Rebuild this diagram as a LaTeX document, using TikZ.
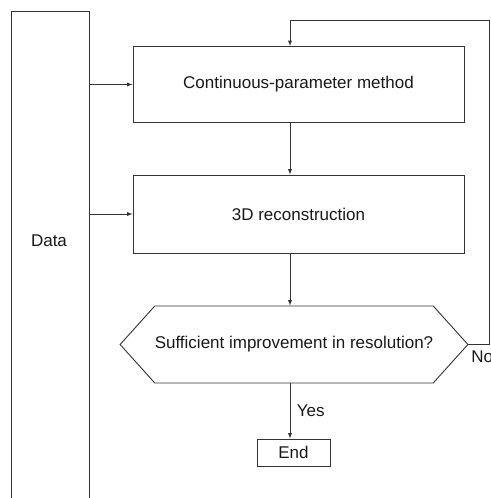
\documentclass[tikz,border=0pt]{standalone}
\usepackage{fontspec}
\setmainfont{Liberation Sans}
\usetikzlibrary{arrows,shapes.symbols}

\begin{document}
\begin{tikzpicture}[x = 1pt, y = -1pt, >=latex, line width = 0.9pt, color = black!80,
  every node/.style = {font = \fontsize{17}{20}\selectfont, text = black!90},
  stage/.style = {draw, minimum width = 331pt, minimum height = 76pt}]

\useasboundingbox (0, 0) rectangle (490, 498);
\clip (0, 0) rectangle (490, 498);

% data column, runs off the bottom
\node[draw, minimum width = 78pt, minimum height = 530pt] (data) at (50, 276) {};
\node (datatext) at (49, 241) {Data};

\node[stage] (method) at (298.5, 84.5) {Continuous-parameter method};
\node[stage, minimum height = 78pt] (recon) at (298.5, 214) {3D reconstruction};
\node[draw, shape = signal, signal to = west and east, signal pointer angle = 96,
  minimum width = 346pt, minimum height = 77pt, inner xsep = 0pt] (check) at (294, 344.5)
  {Sufficient improvement in resolution?};
\node[draw, minimum width = 73pt, minimum height = 27pt] (end) at (293.5, 452.5) {End};

\coordinate (col) at (290, 0);
\coordinate (loop) at (489, 20);

\draw[->] (data.east |- method.west) -- (method.west);
\draw[->] (data.east |- recon.west) -- (recon.west);
\draw[->] (method.south -| col) -- (recon.north -| col);
\draw[->] (recon.south -| col) -- (check.north -| col);
\draw[->] (check.south -| col) -- node[right, xshift = 3pt] {Yes} (end.north -| col);
\draw[->] (check.east) -| (loop) -| (method.north -| col);
\node[anchor = north west, inner sep = 0pt] (no) at (471, 350) {No};

\end{tikzpicture}
\end{document}
